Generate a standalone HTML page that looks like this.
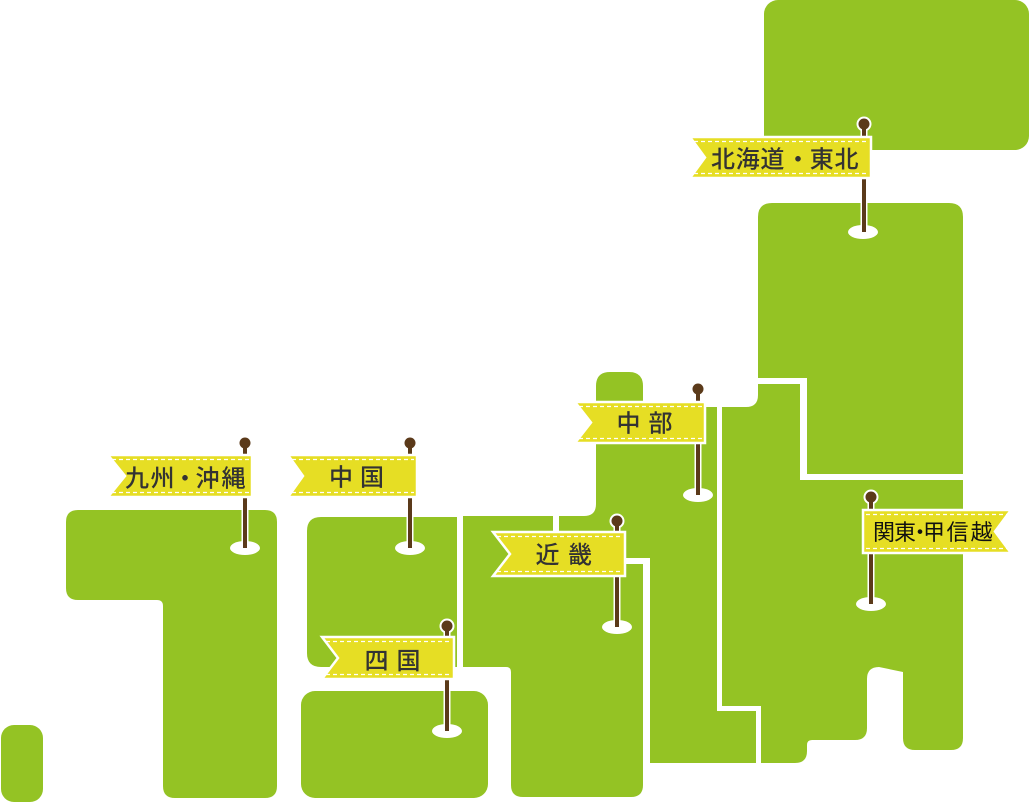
<!DOCTYPE html>
<html><head><meta charset="utf-8"><style>
html,body{margin:0;padding:0;background:#fff;}
svg{display:block;}
.lbl{font-family:"Liberation Sans","Noto Sans CJK JP",sans-serif;font-size:24px;fill:#333;font-weight:500;}
.lbl2{font-family:"Liberation Sans","Noto Sans CJK JP",sans-serif;font-size:22px;fill:#111;}
</style></head><body>
<svg width="1029" height="804" viewBox="0 0 1029 804" xmlns="http://www.w3.org/2000/svg">
<defs>
<g id="dash"></g>
</defs>
<g fill="#94c324">
<!-- Hokkaido -->
<rect x="764" y="0" width="265" height="150" rx="14"/>
<!-- Tohoku -->
<path d="M758,217 Q758,203 772,203 H949 Q963,203 963,217 V474 H807 V378 H758 Z"/>
<!-- Kanto -->
<path d="M722,407 H746 Q758,407 758,395 V384 H800 V480 H963 V738 Q963,750 951,750 H915 Q903,750 903,738 V672 L879,667 Q867,667 867,679 V728 Q867,740 855,740 H812 Q807,740 807,745 V751 Q807,763 795,763 H761 V706 H722 Z"/>
<!-- Chubu -->
<path d="M559,558 V516 H584 Q596,516 596,504 V386 Q596,372 610,372 H629 Q643,372 643,386 V407 H717 V711 H756 V763 H650 V558 Z"/>
<!-- Kinki -->
<path d="M463,516 H553 V564 H643 V785 Q643,797 631,797 H523 Q511,797 511,785 V672 Q511,667 506,667 H463 Z"/>
<!-- Chugoku -->
<path d="M321,517 H457 V667 H321 Q307,667 307,653 V531 Q307,517 321,517 Z"/>
<!-- Shikoku -->
<rect x="301" y="691" width="187" height="107" rx="14"/>
<!-- Kyushu -->
<path d="M66,522 Q66,510 78,510 H265 Q277,510 277,522 V786 Q277,798 265,798 H175 Q163,798 163,786 V606 Q163,600 157,600 H78 Q66,600 66,588 Z"/>
<!-- Okinawa -->
<rect x="1" y="725" width="42" height="77" rx="13"/>
</g>

<!-- Flag 1: Hokkaido/Tohoku -->
<g>
<ellipse cx="863" cy="232" rx="15" ry="7" fill="#fff"/>
<rect x="860.5" y="124" width="7" height="108" fill="#fff"/>
<circle cx="864" cy="124" r="7.5" fill="#fff"/>
<rect x="862" y="124" width="4" height="108" fill="#5b3a1a"/>
<circle cx="864" cy="124" r="5.5" fill="#5b3a1a"/>
<polygon points="690,137 871,137 871,178 690,178 705,157.5" fill="#e6de24" stroke="#fff" stroke-width="2.5"/>
<line x1="694" y1="141.5" x2="868" y2="141.5" stroke="#fff" stroke-width="1.2" stroke-dasharray="4 3"/>
<line x1="694" y1="173.5" x2="868" y2="173.5" stroke="#fff" stroke-width="1.2" stroke-dasharray="4 3"/>
<text class="lbl" x="723 747.7 772.4 798 821.8 846.5" y="167.6" text-anchor="middle">北海道・東北</text>
</g>

<!-- Flag 2: Chubu -->
<g>
<ellipse cx="698" cy="495" rx="15" ry="7" fill="#fff"/>
<rect x="694.5" y="389" width="7" height="106" fill="#fff"/>
<circle cx="698" cy="389" r="7.5" fill="#fff"/>
<rect x="696" y="389" width="4" height="106" fill="#5b3a1a"/>
<circle cx="698" cy="389" r="5.5" fill="#5b3a1a"/>
<polygon points="575,402 705,402 705,443 575,443 591,422.5" fill="#e6de24" stroke="#fff" stroke-width="2.5"/>
<line x1="579" y1="406.5" x2="702" y2="406.5" stroke="#fff" stroke-width="1.2" stroke-dasharray="4 3"/>
<line x1="579" y1="438.5" x2="702" y2="438.5" stroke="#fff" stroke-width="1.2" stroke-dasharray="4 3"/>
<text class="lbl" x="628.5 660.5" y="431.6" text-anchor="middle">中部</text>
</g>

<!-- Flag 3: Kinki -->
<g>
<ellipse cx="617" cy="627" rx="15" ry="7" fill="#fff"/>
<rect x="613.5" y="521" width="7" height="106" fill="#fff"/>
<circle cx="617" cy="521" r="7.5" fill="#fff"/>
<rect x="615" y="521" width="4" height="106" fill="#5b3a1a"/>
<circle cx="617" cy="521" r="5.5" fill="#5b3a1a"/>
<polygon points="493,532 625,532 625,576 493,576 510,554" fill="#e6de24" stroke="#fff" stroke-width="2.5"/>
<line x1="497" y1="536.5" x2="622" y2="536.5" stroke="#fff" stroke-width="1.2" stroke-dasharray="4 3"/>
<line x1="497" y1="571.5" x2="622" y2="571.5" stroke="#fff" stroke-width="1.2" stroke-dasharray="4 3"/>
<text class="lbl" x="547.5 580" y="563.1" text-anchor="middle">近畿</text>
</g>

<!-- Flag 4: Shikoku -->
<g>
<ellipse cx="447" cy="731" rx="15" ry="7" fill="#fff"/>
<rect x="443.5" y="626" width="7" height="105" fill="#fff"/>
<circle cx="447" cy="626" r="7.5" fill="#fff"/>
<rect x="445" y="626" width="4" height="105" fill="#5b3a1a"/>
<circle cx="447" cy="626" r="5.5" fill="#5b3a1a"/>
<polygon points="322,637 454,637 454,679 322,679 338,658" fill="#e6de24" stroke="#fff" stroke-width="2.5"/>
<line x1="326" y1="641.5" x2="451" y2="641.5" stroke="#fff" stroke-width="1.2" stroke-dasharray="4 3"/>
<line x1="326" y1="674.5" x2="451" y2="674.5" stroke="#fff" stroke-width="1.2" stroke-dasharray="4 3"/>
<text class="lbl" x="376.5 408.5" y="669.1" text-anchor="middle">四国</text>
</g>

<!-- Flag 5: Chugoku -->
<g>
<ellipse cx="410" cy="548" rx="15" ry="7" fill="#fff"/>
<rect x="406.5" y="443" width="7" height="105" fill="#fff"/>
<circle cx="410" cy="443" r="7.5" fill="#fff"/>
<rect x="408" y="443" width="4" height="105" fill="#5b3a1a"/>
<circle cx="410" cy="443" r="5.5" fill="#5b3a1a"/>
<polygon points="288,455 417,455 417,497 288,497 303,476" fill="#e6de24" stroke="#fff" stroke-width="2.5"/>
<line x1="292" y1="459.5" x2="414" y2="459.5" stroke="#fff" stroke-width="1.2" stroke-dasharray="4 3"/>
<line x1="292" y1="492.5" x2="414" y2="492.5" stroke="#fff" stroke-width="1.2" stroke-dasharray="4 3"/>
<text class="lbl" x="341 372" y="485.6" text-anchor="middle">中国</text>
</g>

<!-- Flag 6: Kyushu/Okinawa -->
<g>
<ellipse cx="245" cy="548" rx="15" ry="7" fill="#fff"/>
<rect x="241.5" y="443" width="7" height="105" fill="#fff"/>
<circle cx="245" cy="443" r="7.5" fill="#fff"/>
<rect x="243" y="443" width="4" height="105" fill="#5b3a1a"/>
<circle cx="245" cy="443" r="5.5" fill="#5b3a1a"/>
<polygon points="108,455 252,455 252,497 108,497 125,476" fill="#e6de24" stroke="#fff" stroke-width="2.5"/>
<line x1="112" y1="459.5" x2="249" y2="459.5" stroke="#fff" stroke-width="1.2" stroke-dasharray="4 3"/>
<line x1="112" y1="492.5" x2="249" y2="492.5" stroke="#fff" stroke-width="1.2" stroke-dasharray="4 3"/>
<text class="lbl" x="137 162.5 185 207.5 233.5" y="486.6" text-anchor="middle">九州・沖縄</text>
</g>

<!-- Flag 7: Kanto/Koshinetsu -->
<g>
<ellipse cx="871" cy="604" rx="15" ry="7" fill="#fff"/>
<rect x="867.5" y="497" width="7" height="107" fill="#fff"/>
<circle cx="871" cy="497" r="7.5" fill="#fff"/>
<rect x="869" y="497" width="4" height="107" fill="#5b3a1a"/>
<circle cx="871" cy="497" r="5.5" fill="#5b3a1a"/>
<polygon points="863,510 1011,510 995,531.5 1011,553 863,553" fill="#e6de24" stroke="#fff" stroke-width="2.5"/>
<line x1="866" y1="514.5" x2="1007" y2="514.5" stroke="#fff" stroke-width="1.2" stroke-dasharray="4 3"/>
<line x1="866" y1="548.5" x2="1007" y2="548.5" stroke="#fff" stroke-width="1.2" stroke-dasharray="4 3"/>
<text class="lbl2" x="884 905 920 934 957.5 981.6" y="540" text-anchor="middle">関東・甲信越</text>
</g>
</svg>
</body></html>
